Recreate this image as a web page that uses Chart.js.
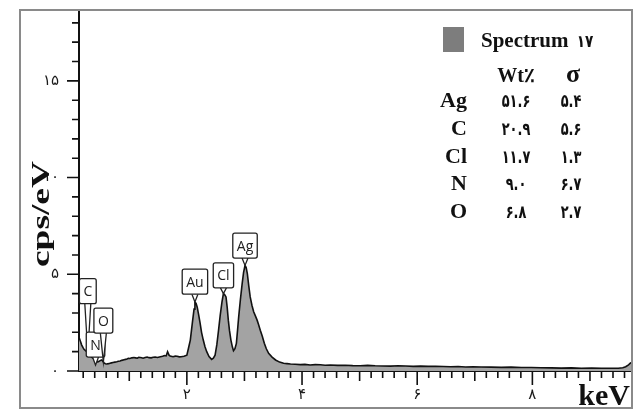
<!DOCTYPE html>
<html>
<head>
<meta charset="utf-8">
<script src="https://cdn.jsdelivr.net/npm/chart.js@4.4.1/dist/chart.umd.min.js"></script>
<style>
  html, body { margin: 0; padding: 0; background: #fff; }
  canvas { display: block; }
</style>
</head>
<body>
<canvas id="spectrum" width="638" height="410"></canvas>
<script>
// energy (keV) and counts (cps/eV)
const keV = [
  0.127, 0.15, 0.174, 0.195, 0.214, 0.24, 0.261, 0.29, 0.318, 0.345, 0.376, 0.405, 0.435, 0.455, 0.475,
  0.50, 0.522, 0.54, 0.562, 0.585, 0.609, 0.64, 0.666, 0.69, 0.718, 0.75, 0.783, 0.81, 0.84, 0.87,
  0.91, 0.935, 0.96, 0.985, 1.01, 1.045, 1.08, 1.11, 1.14, 1.165, 1.19, 1.215, 1.24, 1.275, 1.31,
  1.345, 1.38, 1.415, 1.45, 1.49, 1.54, 1.58, 1.61, 1.64, 1.665, 1.69, 1.71, 1.76, 1.80, 1.83,
  1.87, 1.90, 1.95, 2.00, 2.03, 2.06, 2.08, 2.10, 2.125, 2.14, 2.16, 2.18, 2.205, 2.23, 2.255,
  2.285, 2.315, 2.345, 2.385, 2.43, 2.46, 2.49, 2.52, 2.55, 2.58, 2.61, 2.635, 2.655, 2.68, 2.70,
  2.72, 2.74, 2.765, 2.79, 2.81, 2.835, 2.86, 2.88, 2.90, 2.93, 2.96, 2.985, 3.01, 3.03, 3.05,
  3.075, 3.10, 3.13, 3.16, 3.19, 3.22, 3.245, 3.275, 3.31, 3.345, 3.38, 3.42, 3.48, 3.54, 3.61,
  3.68, 3.74, 3.80, 3.88, 3.97, 4.05, 4.14, 4.23, 4.32, 4.40, 4.49, 4.62, 4.75, 4.88, 5.01,
  5.14, 5.27, 5.40, 5.54, 5.67, 5.80, 5.93, 6.06, 6.19, 6.32, 6.45, 6.58, 6.71, 6.84, 6.97,
  7.11, 7.28, 7.46, 7.63, 7.81, 7.98, 8.15, 8.33, 8.50, 8.68, 8.85, 9.03, 9.20, 9.35, 9.49,
  9.57, 9.62, 9.67, 9.70, 9.73
];
const cps = [
  1.74, 1.55, 1.34, 1.22, 1.12, 1.05, 1.00, 0.90, 0.82, 0.72, 0.65, 0.56, 0.48, 0.47, 0.50,
  0.55, 0.57, 0.50, 0.42, 0.38, 0.36, 0.38, 0.40, 0.42, 0.44, 0.46, 0.48, 0.50, 0.52, 0.55,
  0.58, 0.60, 0.62, 0.66, 0.65, 0.68, 0.70, 0.68, 0.66, 0.71, 0.70, 0.68, 0.66, 0.70, 0.72,
  0.69, 0.68, 0.71, 0.72, 0.70, 0.74, 0.76, 0.80, 0.78, 1.00, 0.82, 0.78, 0.74, 0.77, 0.76,
  0.73, 0.74, 0.76, 0.82, 1.20, 1.60, 2.10, 2.60, 3.20, 3.57, 3.50, 3.30, 2.90, 2.47, 2.00,
  1.60, 1.25, 1.00, 0.75, 0.60, 0.66, 0.82, 1.35, 2.10, 2.90, 3.57, 4.00, 3.95, 3.83, 3.30,
  2.63, 2.10, 1.60, 1.25, 1.05, 1.15, 1.43, 2.10, 2.80, 3.70, 4.50, 5.10, 5.46, 5.35, 5.04,
  4.40, 3.83, 3.40, 3.06, 2.85, 2.63, 2.40, 2.11, 1.80, 1.43, 1.15, 0.91, 0.72, 0.57, 0.46,
  0.40, 0.38, 0.36, 0.35, 0.33, 0.34, 0.31, 0.33, 0.32, 0.30, 0.31, 0.29, 0.30, 0.28, 0.27,
  0.29, 0.27, 0.26, 0.25, 0.27, 0.26, 0.24, 0.25, 0.24, 0.24, 0.23, 0.22, 0.23, 0.21, 0.22,
  0.21, 0.20, 0.19, 0.20, 0.18, 0.18, 0.17, 0.16, 0.15, 0.16, 0.14, 0.15, 0.14, 0.14, 0.14,
  0.17, 0.22, 0.32, 0.40, 0.45
];

// peak markers: label, energy and height of the pointer tip, lift of the box above it
const peakNames = ['C', 'N', 'O', 'Au', 'Cl', 'Ag'];
const peakKeV = [0.28, 0.414, 0.55, 2.14, 2.635, 3.01];
const peakCps = [0.93, 0.30, 0.46, 3.57, 4.00, 5.46];
const peakLift = [2.55, 0.42, 1.50, 0.40, 0.30, 0.38];

// quantification table
const elements = ['Ag', 'C', 'Cl', 'N', 'O'];
const wtPercent = [51.6, 20.9, 11.7, 9.0, 6.8];
const sigma = [5.4, 5.6, 1.3, 6.7, 2.7];
const spectrumNo = 17;

const faDigits = '۰۱۲۳۴۵۶۷۸۹';
function toFa(n, dec) {
  const s = dec === undefined ? String(n) : n.toFixed(dec);
  return s.replace(/\d/g, d => faDigits[d]);
}

function isWhole(v) {
  return Math.abs(v - Math.round(v)) < 1e-6;
}

const tickMarks = {
  id: 'tickMarks',
  afterDraw(chart) {
    const {ctx, chartArea, scales: {x, y}} = chart;
    ctx.save();
    ctx.strokeStyle = '#111';
    ctx.lineWidth = 1.6;
    ctx.beginPath();
    x.ticks.forEach(t => {
      const px = x.getPixelForValue(t.value);
      let len = 7;
      if (isWhole(t.value)) len = Math.round(t.value) % 2 === 0 ? 14 : 10;
      ctx.moveTo(px, chartArea.bottom);
      ctx.lineTo(px, chartArea.bottom + len);
    });
    y.ticks.forEach(t => {
      const py = y.getPixelForValue(t.value);
      const len = Math.round(t.value) % 5 === 0 ? 12 : 7;
      ctx.moveTo(chartArea.left, py);
      ctx.lineTo(chartArea.left - len, py);
    });
    ctx.stroke();
    ctx.restore();
  }
};

const peakBoxes = {
  id: 'peakBoxes',
  afterDatasetsDraw(chart) {
    const {ctx, scales: {x, y}} = chart;
    ctx.save();
    ctx.font = '14px "Open Sans"';
    ctx.textAlign = 'center';
    ctx.textBaseline = 'middle';
    ctx.lineWidth = 1.3;
    ctx.strokeStyle = '#222';
    peakNames.forEach((name, i) => {
      const tx = x.getPixelForValue(peakKeV[i]);
      const ty = y.getPixelForValue(peakCps[i]);
      const bottom = y.getPixelForValue(peakCps[i] + peakLift[i]);
      const w = ctx.measureText(name).width + 8;
      const h = 25;
      // pointer
      ctx.beginPath();
      ctx.moveTo(tx - 3, bottom);
      ctx.lineTo(tx, ty);
      ctx.lineTo(tx + 3, bottom);
      ctx.fillStyle = '#fff';
      ctx.fill();
      ctx.stroke();
      // box
      ctx.beginPath();
      ctx.roundRect(tx - w / 2, bottom - h, w, h, 2);
      ctx.fill();
      ctx.stroke();
      ctx.fillStyle = '#222';
      ctx.fillText(name, tx, bottom - h / 2 + 1);
    });
    ctx.restore();
  }
};

function drawFa(ctx, text, cx, base, size, sx) {
  ctx.save();
  ctx.translate(cx, base);
  ctx.scale(sx, 1);
  ctx.font = 'bold ' + size + 'px "DejaVu Sans"';
  ctx.textAlign = 'center';
  ctx.fillText(text, 0, 0);
  ctx.restore();
}

const decor = {
  id: 'decor',
  beforeDraw(chart) {
    const ctx = chart.ctx;
    ctx.save();
    ctx.fillStyle = '#fff';
    ctx.fillRect(0, 0, chart.width, chart.height);
    ctx.restore();
  },
  afterDraw(chart) {
    const ctx = chart.ctx;
    ctx.save();
    // frame
    ctx.strokeStyle = '#8a8a8a';
    ctx.lineWidth = 2;
    ctx.strokeRect(20, 10, 612, 398);

    ctx.fillStyle = '#111';
    ctx.textBaseline = 'alphabetic';

    // y title
    ctx.save();
    ctx.translate(49, 267);
    ctx.rotate(-Math.PI / 2);
    ctx.font = 'bold 26px "Liberation Serif"';
    const tw = ctx.measureText('cps/eV').width;
    ctx.scale(106 / tw, 1);
    ctx.textAlign = 'left';
    ctx.fillText('cps/eV', 0, 0);
    ctx.restore();

    // x title
    ctx.font = 'bold 30px "Liberation Serif"';
    ctx.textAlign = 'right';
    ctx.fillText('keV', 630, 405);

    // legend
    ctx.fillStyle = '#7d7d7d';
    ctx.fillRect(443, 27, 21, 25);
    ctx.fillStyle = '#111';
    ctx.textAlign = 'left';
    ctx.font = 'bold 21px "Liberation Serif"';
    ctx.fillText('Spectrum', 481, 47);
    drawFa(ctx, toFa(spectrumNo), 585, 47, 17, 0.8);

    ctx.textAlign = 'center';
    ctx.font = 'bold 20px "Liberation Serif"';
    ctx.fillText('Wt٪', 516, 82);
    ctx.font = 'bold 26px "Liberation Serif"';
    ctx.fillText('σ', 573, 82);

    elements.forEach((el, i) => {
      const base = 106.7 + i * 27.9;
      ctx.textAlign = 'right';
      ctx.font = 'bold 22px "Liberation Serif"';
      ctx.fillText(el, 467, base);
      drawFa(ctx, toFa(wtPercent[i], 1), 516, base, 18, 0.72);
      drawFa(ctx, toFa(sigma[i], 1), 571, base, 18, 0.72);
    });
    ctx.restore();
  }
};

new Chart(document.getElementById('spectrum'), {
  type: 'line',
  data: {
    datasets: [{
      label: 'Spectrum ' + toFa(spectrumNo),
      data: keV.map((k, i) => ({x: k, y: cps[i]})),
      borderColor: '#111',
      borderWidth: 1.6,
      backgroundColor: '#a3a3a3',
      fill: 'origin',
      pointRadius: 0,
      tension: 0
    }]
  },
  options: {
    responsive: false,
    animation: false,
    devicePixelRatio: 1,
    layout: { padding: { top: 12, right: 6, left: 0, bottom: 0 } },
    plugins: {
      legend: { display: false },
      tooltip: { enabled: false }
    },
    scales: {
      x: {
        type: 'linear',
        min: 0.127,
        max: 9.73,
        afterFit: (scale) => {
          scale.height = 39;
          scale.paddingLeft = 0;
          scale.paddingRight = 0;
        },
        grid: { display: false, drawTicks: false },
        border: { display: true, color: '#111', width: 2 },
        ticks: {
          stepSize: 0.2,
          maxTicksLimit: 200,
          includeBounds: false,
          autoSkip: false,
          maxRotation: 0,
          padding: 15,
          color: '#1a1a1a',
          font: { family: 'DejaVu Sans', size: 15 },
          callback: (v) => (isWhole(v) && Math.round(v) % 2 === 0 && v > 0) ? toFa(Math.round(v)) : ''
        }
      },
      y: {
        min: 0,
        max: 18.56,
        afterFit: (scale) => {
          scale.width = 79;
          scale.paddingTop = 0;
          scale.paddingBottom = 0;
        },
        grid: { display: false, drawTicks: false },
        border: { display: true, color: '#111', width: 2 },
        ticks: {
          stepSize: 1,
          maxTicksLimit: 200,
          includeBounds: false,
          autoSkip: false,
          padding: 20,
          color: '#1a1a1a',
          font: { family: 'DejaVu Sans', size: 15 },
          callback: (v) => (isWhole(v) && Math.round(v) % 5 === 0) ? toFa(Math.round(v)) : ''
        }
      }
    }
  },
  plugins: [decor, tickMarks, peakBoxes]
});
</script>
</body>
</html>
